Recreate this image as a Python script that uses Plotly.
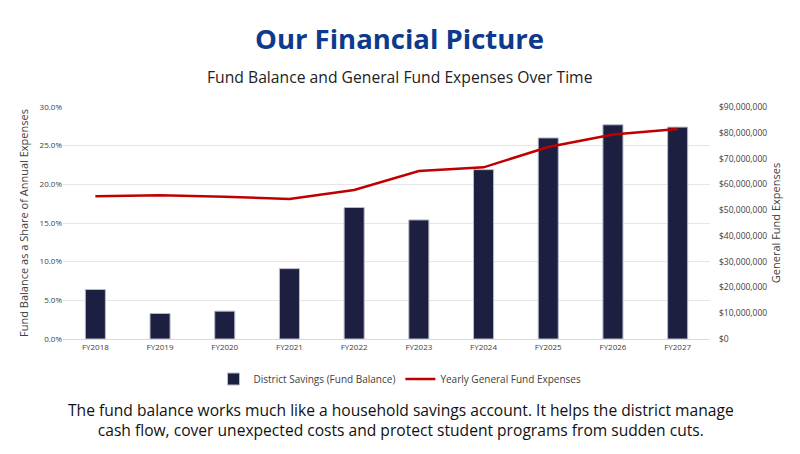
import plotly.graph_objects as go

years = ["FY2018","FY2019","FY2020","FY2021","FY2022","FY2023","FY2024","FY2025","FY2026","FY2027"]
savings_pct = [6.4, 3.3, 3.6, 9.1, 17.0, 15.4, 21.9, 26.0, 27.7, 27.4]
expenses = [55.4e6, 55.8e6, 55.2e6, 54.3e6, 57.8e6, 65.2e6, 66.6e6, 74.5e6, 79.3e6, 81.5e6]

F = "Open Sans"
T, B, L, R = 99, 123, 55, 98
ph = 454 - T - B
OFF = 8
def py(p): return (454 - B - (p - OFF)) / ph
def px(p): return (p - OFF - L) / (800 - L - R)

fig = go.Figure()
fig.add_bar(x=years, y=[v/100 for v in savings_pct], name="District Savings (Fund Balance)",
            marker=dict(color="#1c1f40", line=dict(color="#b8bccb", width=1)))
fig.add_scatter(x=years, y=expenses, name="Yearly General Fund Expenses", yaxis="y2",
                mode="lines", line=dict(color="#c00000", width=2.5))
fig.update_layout(
    width=800, height=454, margin=dict(l=L, r=R, t=T, b=B),
    paper_bgcolor="white", plot_bgcolor="white", bargap=0.69,
    font=dict(family=F, color="#404040"),
    xaxis=dict(tickfont=dict(size=8), showline=True, linecolor="#d9d9d9", ticks=""),
    yaxis=dict(range=[0, 0.3], dtick=0.05, tickformat=".1%", tickfont=dict(size=8),
               gridcolor="#e6e6e6", zeroline=False,
               title=dict(text="Fund Balance as a Share of Annual Expenses", font=dict(size=11), standoff=8)),
    yaxis2=dict(overlaying="y", side="right", range=[0, 90e6], dtick=10e6, tickprefix="$",
                tickformat=",.0f", tickfont=dict(size=8.5), showgrid=False, zeroline=False,
                ticklabelstandoff=8,
                title=dict(text="General Fund Expenses", font=dict(size=11), standoff=6)),
    legend=dict(orientation="h", x=px(400), xanchor="center", y=py(379), yanchor="middle", font=dict(size=10)),
    showlegend=True,
)
fig.add_annotation(text="<b>Our Financial Picture</b>", x=px(400), xref="paper", y=py(38), yref="paper",
                   yanchor="middle", showarrow=False, font=dict(size=27.5, color="#0d3a8c", family=F))
fig.add_annotation(text="Fund Balance and General Fund Expenses Over Time", x=px(400), xref="paper",
                   y=py(77), yref="paper", yanchor="middle", showarrow=False,
                   font=dict(size=15.7, color="#222", family=F))
fig.add_annotation(text="The fund balance works much like a household savings account. It helps the district manage<br>cash flow, cover unexpected costs and protect student programs from sudden cuts.",
                   x=px(401), xref="paper", y=py(420), yref="paper", yanchor="middle", showarrow=False,
                   font=dict(size=15.6, color="#111", family=F))
fig.write_html("out.html")
